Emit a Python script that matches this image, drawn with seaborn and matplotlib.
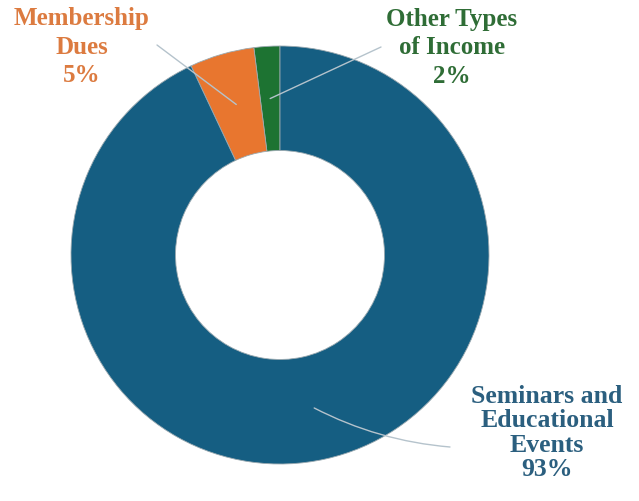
import numpy as np
import matplotlib
matplotlib.use("Agg")
import matplotlib.pyplot as plt
import seaborn as sns

# datos
categorias = ["Other Types\nof Income", "Membership\nDues", "Seminars and\nEducational\nEvents"]
porcentajes = [2, 5, 93]
colores = ["#1d7332", "#e8762f", "#155e82"]
colores_texto = ["#2f6d36", "#dc7b40", "#2b5f7f"]

sns.set_theme(style="white")
plt.rcParams["font.family"] = ["Liberation Serif", "DejaVu Serif"]

W, H = 639, 501
cx, cy, R = 280, 255, 209  # centro y radio en pixeles

fig = plt.figure(figsize=(W / 100, H / 100), dpi=100)
ax = fig.add_axes([0, 0, 1, 1])

wedges, _ = ax.pie(porcentajes, colors=colores, startangle=90, counterclock=True,
                   radius=1, wedgeprops=dict(width=0.5, edgecolor="#9aa9b0", linewidth=0.6))

ax.set_xlim(-cx / R, (W - cx) / R)
ax.set_ylim(-(H - cy) / R, cy / R)
ax.set_aspect("equal")
ax.axis("off")


def px(x, y):
    return ((x - cx) / R, (cy - y) / R)


# posiciones de etiquetas (pixeles) y final de linea guia
pos_texto = [(452, 48), (82, 47), (547, 433)]
fin_linea = [(381, 47), (157, 45), (450, 447)]
curvas = [0.0, 0.0, -0.1]
espaciado = [1.3, 1.3, 1.06]
tamanos = [18, 18, 18.5]

for w, cat, pct, col, pt, fl, rad, esp, tam in zip(wedges, categorias, porcentajes, colores_texto,
                                                  pos_texto, fin_linea, curvas, espaciado, tamanos):
    ang = np.deg2rad((w.theta1 + w.theta2) / 2)
    inicio = (0.75 * np.cos(ang), 0.75 * np.sin(ang))
    ax.annotate("", xy=inicio, xytext=px(*fl),
                arrowprops=dict(arrowstyle="-", color="#b5c3cc", lw=1.0,
                                connectionstyle=f"arc3,rad={rad}",
                                shrinkA=0, shrinkB=0))
    ax.text(*px(*pt), f"{cat}\n{pct}%", ha="center", va="center", color=col,
            fontsize=tam, fontweight="bold", linespacing=esp)

fig.savefig("out.png", dpi=100)
